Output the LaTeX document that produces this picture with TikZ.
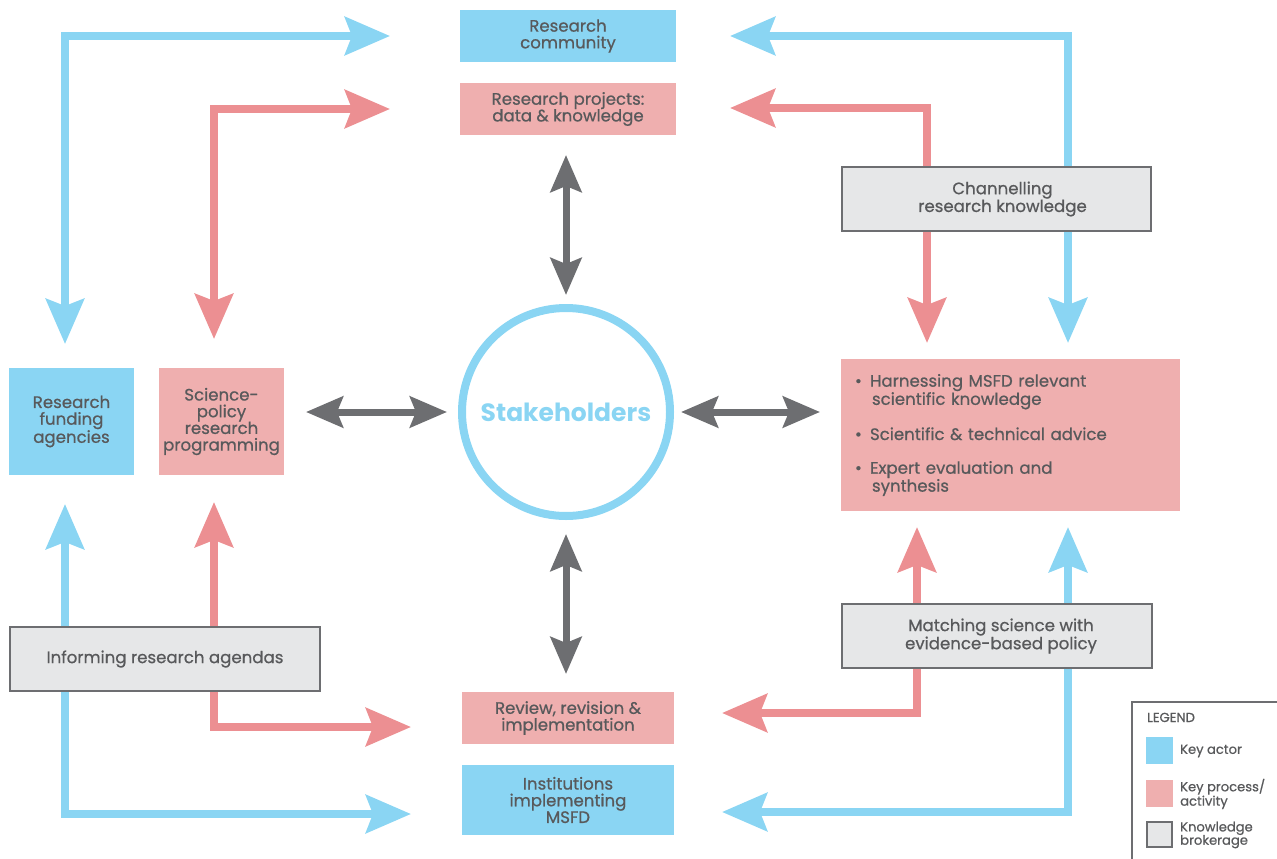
\documentclass[tikz,border=0pt]{standalone}
\usepackage{fontspec}
\setmainfont{Poppins}[UprightFeatures={FakeBold=0.7}]
\usetikzlibrary{arrows.meta,backgrounds}
\definecolor{kblue}{HTML}{8AD5F3}
\definecolor{kpinkarr}{HTML}{EC8F92}
\definecolor{kpink}{HTML}{EFAFAF}
\definecolor{kgrayfill}{HTML}{E6E7E8}
\definecolor{kgrayline}{HTML}{6D6E71}
\definecolor{ktext}{HTML}{58595B}
\begin{document}
\begin{tikzpicture}[x=1pt,y=-1pt,
  box/.style={rectangle, inner sep=0pt, outer sep=0pt, text=ktext, align=center,
    font=\fontsize{16.6}{16.7}\selectfont},
  actor/.style={box, fill=kblue},
  process/.style={box, fill=kpink},
  broker/.style={box, fill=kgrayfill, draw=kgrayline, line width=2pt},
  bluearr/.style={draw=kblue, line width=8pt, line join=miter, {Stealth[length=45pt,width=38pt,inset=7pt]}-{Stealth[length=45pt,width=38pt,inset=7pt]}},
  pinkarr/.style={draw=kpinkarr, line width=8pt, line join=miter, {Stealth[length=45pt,width=38pt,inset=7pt]}-{Stealth[length=45pt,width=38pt,inset=7pt]}},
  grayarr/.style={draw=kgrayline, line width=7pt, {Stealth[length=37pt,width=31pt,inset=6pt]}-{Stealth[length=37pt,width=31pt,inset=6pt]}},
  legtext/.style={inner sep=0pt, text=ktext, align=left, font=\fontsize{13.1}{13.3}\selectfont}
]
\useasboundingbox (0,0) rectangle (1277,859);

% actors and processes
\node[actor, minimum width=216pt, minimum height=52pt] (comm) at (568,36) {Research\\community};
\node[process, minimum width=216pt, minimum height=52pt] (proj) at (568,109) {Research projects:\\data \& knowledge};
\node[actor, minimum width=125pt, minimum height=107pt] (fund) at (71.5,421.5) {Research\\funding\\agencies};
\node[process, minimum width=125pt, minimum height=107pt] (sci) at (221.5,421.5) {Science-\\policy\\research\\programming};
\node[process, minimum width=212pt, minimum height=52pt] (rev) at (568,718) {Review, revision \&\\implementation};
\node[actor, minimum width=212pt, minimum height=70pt] (inst) at (568,800) {Institutions\\implementing\\MSFD};
\node[process, minimum width=339pt, minimum height=152pt, text width=311pt, align=left] (harn) at (1010.5,435)
  {\makebox[15pt][l]{•}Harnessing MSFD relevant\\\hspace*{17pt}scientific knowledge\\[17pt]
   \makebox[15pt][l]{•}Scientific \& technical advice\\[17pt]
   \makebox[15pt][l]{•}Expert evaluation and\\\hspace*{17pt}synthesis};
\node[circle, draw=kblue, line width=8pt, minimum size=208pt, inner sep=0pt, outer sep=4pt,
  text=kblue, font=\fontsize{25}{25}\selectfont\bfseries] (stake) at (566,412) {Stakeholders};

% brokerage boxes
\node[broker, minimum width=309pt, minimum height=64pt] (chan) at (996.5,199) {\hspace*{12pt}Channelling\\\hspace*{12pt}research knowledge};
\node[broker, minimum width=310pt, minimum height=64pt] (match) at (997,636) {\hspace*{8pt}Matching science with\\\hspace*{8pt}evidence-based policy};
\node[broker, minimum width=310pt, minimum height=64pt] (inform) at (165,659) {Informing research agendas};

% arrow end points
\coordinate (btl1) at (65,344);   \coordinate (btl2) at (390,36);
\coordinate (ptl1) at (214,339);  \coordinate (ptl2) at (390,109);
\coordinate (btr1) at (730,36);   \coordinate (btr2) at (1068,343);
\coordinate (ptr1) at (730,108);  \coordinate (ptr2) at (927,343);
\coordinate (bbl1) at (65,504);   \coordinate (bbl2) at (411,814);
\coordinate (pbl1) at (214,502);  \coordinate (pbl2) at (411,727);
\coordinate (pbr1) at (722,713);  \coordinate (pbr2) at (917,527);
\coordinate (bbr1) at (722,812);  \coordinate (bbr2) at (1068,527);

\begin{scope}[on background layer]
  \draw[bluearr] (btl1) |- (btl2);
  \draw[pinkarr] (ptl1) |- (ptl2);
  \draw[bluearr] (btr1) -| (btr2);
  \draw[pinkarr] (ptr1) -| (ptr2);
  \draw[bluearr] (bbl1) |- (bbl2);
  \draw[pinkarr] (pbl1) |- (pbl2);
  \draw[pinkarr] (pbr1) -| (pbr2);
  \draw[bluearr] (bbr1) -| (bbr2);
\end{scope}

% stakeholder connectors
\draw[grayarr, shorten <=20pt, shorten >=9pt] (stake.north |- proj.south) -- (stake.north);
\draw[grayarr, shorten <=14pt, shorten >=18pt] (stake.south) -- (stake.south |- rev.north);
\draw[grayarr, shorten <=22pt, shorten >=11pt] (sci.east |- stake.west) -- (stake.west);
\draw[grayarr, shorten <=7pt, shorten >=21pt] (stake.east) -- (harn.west |- stake.east);

% legend
\draw[kgrayline, line width=2pt] (1132,860) -- (1132,702) -- (1278,702);
\node[legtext, anchor=base west] (legt) at (1147,722) {LEGEND};
\node[fill=kblue, minimum size=27pt, inner sep=0pt] (lega) at (1159.5,750) {};
\node[fill=kpink, minimum size=27pt, inner sep=0pt] (legp) at (1159.5,793.5) {};
\node[fill=kgrayfill, draw=kgrayline, line width=2pt, minimum size=25pt, inner sep=0pt] (legg) at (1159.5,834) {};
\node[legtext, anchor=west] (legat) at (1180,751) {Key actor};
\node[legtext, anchor=west] (legpt) at (1180,794) {Key process/\\activity};
\node[legtext, anchor=west] (leggt) at (1180,835) {Knowledge\\brokerage};
\end{tikzpicture}
\end{document}
